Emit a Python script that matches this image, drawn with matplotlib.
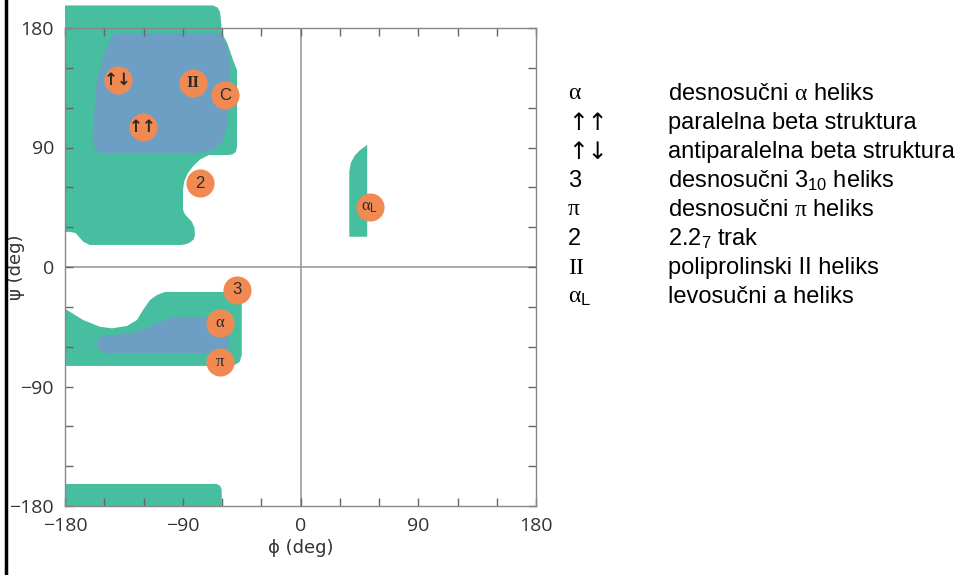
import matplotlib.pyplot as plt
from matplotlib.patches import Polygon
from matplotlib.lines import Line2D

# region outlines, (phi, psi) in degrees
beta_outer = [(-180, 197), (-67, 197), (-63.5, 195.5), (-61.5, 192), (-60.8, 186),
              (-60, 176), (-56, 168.7), (-51.6, 156), (-48.5, 148.3), (-48.5, 90),
              (-49.5, 86.5), (-52, 84.8), (-56, 84.3), (-70, 84.3), (-76.8, 81),
              (-82, 76), (-86.5, 70), (-89, 64), (-89.8, 58), (-89.8, 43),
              (-88.5, 40), (-86.8, 38), (-83, 34), (-81, 29.4), (-80.7, 24),
              (-81.5, 21), (-84.3, 18.5), (-88, 17), (-92, 16.6), (-161, 16.6),
              (-166, 19), (-172, 25.6), (-176, 26.4), (-180, 26.4)]
beta_inner = [(-141.8, 176), (-62, 176), (-58, 171), (-54.5, 160), (-53.5, 150),
              (-55, 130), (-56.2, 105), (-59.3, 95.6), (-63, 90.5), (-67, 88),
              (-76.8, 85.8), (-153.3, 85.8), (-157, 88.5), (-158.7, 96),
              (-157.5, 120), (-155.6, 141), (-150, 160), (-145, 172)]
alpha_outer = [(-180, -31), (-178.5, -32.4), (-166.2, -39.9), (-153.3, -45),
               (-144.1, -46.2), (-132.6, -44.4), (-125, -39.9), (-120.4, -32.4),
               (-115, -24.8), (-109.7, -21.1), (-103.6, -18.8), (-50, -18.8),
               (-46.5, -20.5), (-44.9, -24.8), (-44.9, -66.3), (-46.5, -71.5),
               (-51.6, -74.5), (-180, -74.5)]
alpha_inner = [(-155.6, -55), (-153, -52.5), (-128, -49.7), (-115, -45.5),
               (-109.7, -42.2), (-97.5, -37.7), (-57, -37.7), (-55, -40),
               (-55, -62), (-57, -64.8), (-150, -64.8), (-155, -62)]
bottom_strip = [(-180, -180), (-180, -163.4), (-64, -163.4), (-61.5, -164.8),
                (-60.3, -167.5), (-60.2, -172), (-60.2, -180)]
alpha_left = [(37.3, 22.8), (37.3, 72), (38.5, 78.5), (41.7, 84.3), (45.5, 88),
              (51, 92), (51, 22.8)]

# conformation markers
mark_phi = [-139.5, -82, -57.7, -120.4, -76.8, -48.5, -61.5, -61.5, 53]
mark_psi = [141, 138.5, 129.5, 105.4, 63, -17.3, -42, -71.5, 45]
mark_text = ['↑↓', 'II', 'C', '↑↑', '2', '3', 'α', 'π', r'$\alpha_\mathrm{L}$']

# legend rows
legend_sym = ['α', '↑↑', '↑↓', '3', 'π', '2', 'II', r'$\alpha_\mathrm{L}$']
legend_desc = [r'desnosučni $\alpha$ heliks', 'paralelna beta struktura',
               'antiparalelna beta struktura', r'desnosučni $3_{10}$ heliks',
               r'desnosučni $\pi$ heliks', r'$2.2_{7}$ trak',
               'poliprolinski II heliks', 'levosučni a heliks']

green = '#46BE9F'
blue = '#6C9FC3'
orange = '#F08A52'
SERIF = ['Liberation Serif', 'DejaVu Serif']


def sym_family(t):
    if '↑' in t:
        return ['DejaVu Sans']
    if t in ('2', '3', 'C'):
        return ['Liberation Sans']
    return SERIF


plt.rcParams['mathtext.fontset'] = 'custom'
plt.rcParams['mathtext.rm'] = 'Liberation Sans'
plt.rcParams['mathtext.it'] = 'Liberation Serif'
plt.rcParams['mathtext.default'] = 'it'

fig = plt.figure(figsize=(9.62, 5.75), dpi=100)
ax = fig.add_axes([65 / 962, 69 / 575, 471 / 962, 478 / 575])

for pts, col in [(beta_outer, green), (alpha_outer, green), (bottom_strip, green),
                 (alpha_left, green), (beta_inner, blue), (alpha_inner, blue)]:
    ax.add_patch(Polygon(pts, closed=True, facecolor=col, edgecolor='none',
                         clip_on=False, zorder=1))

ax.axhline(0, color='#999999', lw=1.2, zorder=1.2)
ax.axvline(0, color='#999999', lw=1.2, zorder=1.2)

ax.scatter(mark_phi, mark_psi, s=410, color=orange, zorder=3, linewidths=0)
for x, y, t in zip(mark_phi, mark_psi, mark_text):
    bold = t in ('II', '↑↓', '↑↑')
    ax.text(x, y, t, ha='center', va='center', fontsize=12,
            color='#2a2a2a', family=sym_family(t),
            fontweight='bold' if bold else 'normal', zorder=4)

ax.set_xlim(-180, 180)
ax.set_ylim(-180, 180)
ticks = [-180, -90, 0, 90, 180]
tick_labels = ['−180', '−90', '0', '90', '180']
ax.set_xticks(ticks, tick_labels, fontsize=14, family='Open Sans', color='#333333')
ax.set_yticks(ticks, tick_labels, fontsize=14, family='Open Sans', color='#333333')
minor = list(range(-150, 180, 30))
ax.set_xticks(minor, minor=True)
ax.set_yticks(minor, minor=True)
ax.tick_params(which='both', direction='in', length=6, width=1, color='#666666',
               top=True, right=True)
ax.tick_params(which='major', pad=8)
for sp in ax.spines.values():
    sp.set_color('#888888')
    sp.set_linewidth(1)
    sp.set_zorder(2.5)

ax.set_xlabel('ϕ (deg)', fontsize=13, color='#333333', family='DejaVu Sans', labelpad=3)
ax.set_ylabel('ψ (deg)', fontsize=13, color='#333333', family='DejaVu Sans')
ax.yaxis.set_label_coords(-0.085, 0.5)

# frame line on the left
fig.add_artist(Line2D([6 / 962, 6 / 962], [0, 1], color='black', lw=2.5))

y0 = 91
for i, (sym, desc) in enumerate(zip(legend_sym, legend_desc)):
    y = 1 - (y0 + i * 29.1) / 575
    fig.text(568 / 962, y, sym, fontsize=17, family=sym_family(sym),
             va='center_baseline')
    fig.text(668 / 962, y, desc, fontsize=17, family='Liberation Sans',
             va='center_baseline')

fig.savefig('out.png', dpi=100)
